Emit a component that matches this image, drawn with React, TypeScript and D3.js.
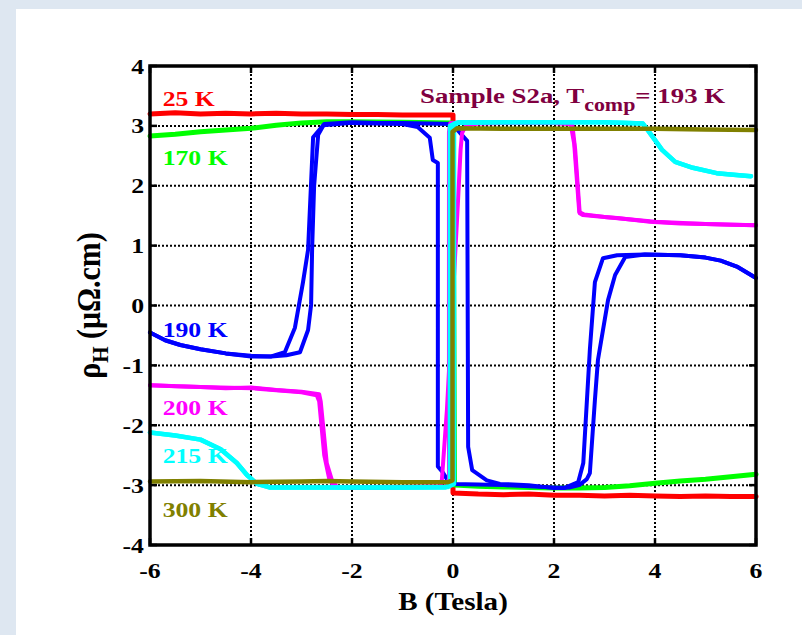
import React from "react";
import * as d3 from "d3";

type P = [number, number];

const xTicks = [-6, -4, -2, 0, 2, 4, 6];
const yTicks = [-4, -3, -2, -1, 0, 1, 2, 3, 4];

const red25: P[] = [[-6,3.2],[-5.5,3.22],[-5,3.2],[-4.5,3.21],[-4,3.2],[-3.5,3.21],[-3,3.2],[-2.5,3.2],[-2,3.19],[-1.5,3.19],[-1,3.18],[-0.5,3.18],[0,3.18],[0,-3.13],[0.5,-3.15],[1,-3.16],[1.5,-3.15],[2,-3.17],[2.5,-3.17],[3,-3.18],[3.5,-3.17],[4,-3.18],[4.5,-3.19],[5,-3.18],[5.5,-3.19],[6,-3.19]];

const green170: P[] = [[-6,2.83],[-5.5,2.86],[-5,2.9],[-4.5,2.93],[-4,2.96],[-3.5,3.01],[-3,3.05],[-2.5,3.07],[-2,3.07],[-1,3.06],[0,3.05],[0.03,-3.0],[0.5,-3.02],[1,-3.03],[2,-3.05],[2.5,-3.05],[3,-3.04],[3.5,-3.01],[4,-2.97],[4.5,-2.93],[5,-2.9],[5.5,-2.86],[6,-2.82]];

const blue190Up: P[] = [[-6,-0.45],[-5.7,-0.58],[-5.4,-0.66],[-5,-0.73],[-4.5,-0.8],[-4,-0.84],[-3.6,-0.85],[-3.3,-0.83],[-3.03,-0.78],[-2.87,-0.41],[-2.81,0.01],[-2.79,0.93],[-2.75,2.0],[-2.67,2.85],[-2.55,3.03],[-2,3.06],[-1.5,3.05],[-1,3.05],[-0.5,3.04],[0,3.03],[0.1,2.92],[0.28,2.75],[0.3,-2.36],[0.38,-2.75],[0.67,-2.92],[0.93,-2.98],[1.5,-3.0],[2,-3.05],[2.3,-3.04],[2.5,-3.0],[2.65,-2.9],[2.71,-2.8],[2.81,-1.58],[2.87,-0.91],[3.07,0.09],[3.21,0.51],[3.41,0.81],[3.8,0.85],[4.5,0.84],[5,0.8],[5.3,0.75],[5.62,0.65],[6,0.46]];

const blue190Down: P[] = [[6,0.46],[5.62,0.65],[5.3,0.75],[5,0.8],[4.5,0.84],[3.8,0.85],[3.25,0.84],[2.97,0.79],[2.81,0.39],[2.71,-0.74],[2.58,-2.63],[2.48,-2.95],[2.2,-3.05],[1.5,-3.02],[1,-3.0],[0.5,-2.99],[0,-2.98],[-0.12,-2.9],[-0.2,-2.79],[-0.3,-2.69],[-0.3,2.38],[-0.4,2.43],[-0.46,2.8],[-0.7,2.98],[-1,3.03],[-1.5,3.04],[-2,3.05],[-2.57,3.01],[-2.77,2.81],[-2.87,0.93],[-2.97,0.39],[-3.13,-0.37],[-3.33,-0.78],[-3.6,-0.85],[-4,-0.85],[-4.5,-0.8],[-5,-0.73],[-5.4,-0.66],[-5.7,-0.58],[-6,-0.45]];

const magenta200Up: P[] = [[-6,-1.33],[-5.5,-1.35],[-5,-1.36],[-4.5,-1.38],[-4,-1.37],[-3.5,-1.41],[-3,-1.44],[-2.65,-1.48],[-2.62,-1.6],[-2.5,-2.63],[-2.4,-2.91],[-2.3,-3.03],[-2,-3.04],[-1,-3.03],[-0.25,-3.02],[-0.22,-2.91],[-0.12,-1.74],[0.1,1.76],[0.15,2.6],[0.18,2.88],[0.25,3.0],[0.5,3.04],[1,3.05],[1.5,3.06],[2,3.05],[2.36,3.04],[2.42,2.6],[2.51,1.54],[2.57,1.51],[3,1.48],[3.25,1.46],[3.9,1.4],[4.5,1.37],[5,1.36],[5.5,1.35],[6,1.34]];

const magenta200Down: P[] = [[6,1.34],[5,1.36],[4,1.4],[3,1.48],[2.6,1.52],[2.5,1.56],[2.4,2.7],[2.33,3.03],[2,3.05],[1,3.05],[0.3,3.06],[-0.05,3.05],[-0.08,2.9],[-0.08,-2.9],[-0.15,-3.03],[-1,-3.04],[-2,-3.05],[-2.35,-3.03],[-2.45,-2.9],[-2.55,-2.5],[-2.65,-1.6],[-2.7,-1.5],[-3,-1.45],[-4,-1.38],[-5,-1.36],[-6,-1.33]];

const cyan215Up: P[] = [[-6,-2.12],[-5.5,-2.17],[-5,-2.24],[-4.6,-2.4],[-4.28,-2.63],[-4.08,-2.83],[-3.88,-2.98],[-3.62,-3.04],[-3,-3.04],[-2,-3.04],[-1,-3.04],[-0.1,-3.03],[0.02,-2.98],[0.02,3.0],[0.1,3.06],[1,3.06],[2,3.06],[3,3.06],[3.5,3.05],[3.76,3.04],[3.9,2.88],[4.14,2.6],[4.4,2.4],[4.75,2.3],[5.22,2.21],[5.6,2.18],[5.9,2.16]];

const cyan215Down: P[] = [[5.9,2.16],[5.22,2.21],[4.75,2.3],[4.4,2.4],[4.14,2.6],[3.9,2.88],[3.76,3.04],[3,3.06],[2,3.06],[1,3.06],[0.05,3.05],[-0.06,3.0],[-0.06,-2.98],[-0.15,-3.04],[-1,-3.04],[-2,-3.04],[-3,-3.04],[-3.62,-3.04],[-3.88,-2.98],[-4.08,-2.83],[-4.28,-2.63],[-4.6,-2.4],[-5,-2.24],[-5.5,-2.17],[-6,-2.12]];

const olive300: P[] = [[-6,-2.94],[-5,-2.93],[-4,-2.95],[-3,-2.94],[-2.5,-2.93],[-2,-2.94],[-1,-2.95],[-0.1,-2.95],[-0.01,-2.92],[-0.01,2.9],[0.08,2.96],[1,2.95],[2,2.95],[3,2.95],[4,2.95],[5,2.94],[6,2.93]];

const seriesLabels = ["25 K", "170 K", "190 K", "200 K", "215 K", "300 K"];
const seriesColors = ["#ff0000", "#00ff00", "#0000ff", "#ff00ff", "#00ffff", "#808000"];
const labelRho = [3.33, 2.35, -0.52, -1.83, -2.63, -3.53];

const W = 802, H = 635;
const M = { left: 150, right: 756, top: 66, bottom: 545 };
const SX = 1.17;
const FONT = "'Liberation Serif', 'Times New Roman', serif";

function T(props: { x: number; y: number; anchor?: string; size: number; sx?: number; fill?: string; children: React.ReactNode }) {
  const { x, y, anchor = "start", size, sx = SX, fill = "#000", children } = props;
  return (
    <text transform={`translate(${x},${y}) scale(${sx},1)`} textAnchor={anchor as any} fontSize={size} fontWeight="bold" fontFamily={FONT} fill={fill}>
      {children}
    </text>
  );
}

export default function App() {
  const x = d3.scaleLinear().domain([-6, 6]).range([M.left, M.right]);
  const y = d3.scaleLinear().domain([-4, 4]).range([M.bottom, M.top]);
  const line = d3.line<P>().x((d) => x(d[0])).y((d) => y(d[1]));

  const series: { data: P[]; color: string; w: number }[] = [
    { data: red25, color: seriesColors[0], w: 5 },
    { data: green170, color: seriesColors[1], w: 5 },
    { data: blue190Up, color: seriesColors[2], w: 4 },
    { data: blue190Down, color: seriesColors[2], w: 4 },
    { data: magenta200Up, color: seriesColors[3], w: 4 },
    { data: magenta200Down, color: seriesColors[3], w: 4 },
    { data: cyan215Up, color: seriesColors[4], w: 4.5 },
    { data: cyan215Down, color: seriesColors[4], w: 4.5 },
    { data: olive300, color: seriesColors[5], w: 4.5 },
  ];

  return (
    <div style={{ position: "fixed", left: 0, top: 0 }}>
      <svg width={W} height={H} style={{ display: "block" }}>
        <rect x={0} y={0} width={W} height={H} fill="#dee7f1" />
        <rect x={16} y={9} width={W - 16} height={H - 9} fill="#ffffff" />
        {xTicks.slice(1, -1).map((t) => (
          <line key={"gx" + t} x1={x(t)} x2={x(t)} y1={M.top} y2={M.bottom} stroke="#000" strokeWidth={2} strokeDasharray="2,2" />
        ))}
        {yTicks.slice(1, -1).map((t) => (
          <line key={"gy" + t} y1={y(t)} y2={y(t)} x1={M.left} x2={M.right} stroke="#000" strokeWidth={2} strokeDasharray="2,2" />
        ))}
        <g fill="none" strokeLinejoin="round" strokeLinecap="round">
          {series.map((s, i) => (
            <path key={i} d={line(s.data) || ""} stroke={s.color} strokeWidth={s.w} />
          ))}
        </g>
        <rect x={M.left} y={M.top} width={M.right - M.left} height={M.bottom - M.top} fill="none" stroke="#000" strokeWidth={3.5} />
        {xTicks.map((t) => (
          <g key={"tx" + t}>
            <line x1={x(t)} x2={x(t)} y1={M.bottom} y2={M.bottom - 7} stroke="#000" strokeWidth={2.5} />
            <line x1={x(t)} x2={x(t)} y1={M.top} y2={M.top + 7} stroke="#000" strokeWidth={2.5} />
          </g>
        ))}
        {yTicks.map((t) => (
          <g key={"ty" + t}>
            <line y1={y(t)} y2={y(t)} x1={M.left} x2={M.left + 7} stroke="#000" strokeWidth={2.5} />
            <line y1={y(t)} y2={y(t)} x1={M.right} x2={M.right - 7} stroke="#000" strokeWidth={2.5} />
          </g>
        ))}
        {xTicks.map((t) => (
          <T key={"lx" + t} x={x(t)} y={578} anchor="middle" size={22}>{String(t)}</T>
        ))}
        {yTicks.map((t) => (
          <T key={"ly" + t} x={144} y={y(t) + 7.5} anchor="end" size={22}>{String(t)}</T>
        ))}
        <T x={453} y={610} anchor="middle" size={26} sx={1.12}>B (Tesla)</T>
        <text transform={`translate(100,${(M.top + M.bottom) / 2}) rotate(-90) scale(1,1.1)`} textAnchor="middle" fontSize={30} fontWeight="bold" fontFamily={FONT} fill="#000">
          ρ<tspan fontSize={21} dy={7}>H</tspan><tspan dy={-7}> (μΩ.cm)</tspan>
        </text>
        <T x={420} y={103} size={22} sx={1.22} fill="#800040">
          Sample S2a, T<tspan fontSize={18} dy={8}>comp</tspan><tspan dy={-8}>= 193 K</tspan>
        </T>
        {seriesLabels.map((s, i) => (
          <T key={s} x={x(-5.75)} y={y(labelRho[i])} size={22} fill={seriesColors[i]}>{s}</T>
        ))}
      </svg>
    </div>
  );
}
